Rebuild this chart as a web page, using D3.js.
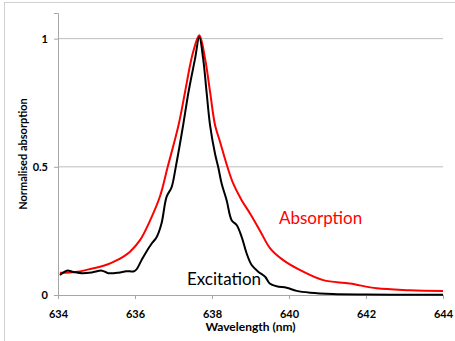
<!DOCTYPE html>
<html>
<head>
<meta charset="utf-8">
<script src="https://cdn.jsdelivr.net/npm/d3@7"></script>
<style>
    body { margin: 0; background: #fff; }
    text { font-family: Lato, "Open Sans", sans-serif; }
</style>
</head>
<body>
<div id="vis"></div>
<script>
(function () {
    // wavelength (nm) / normalised value
    const absorptionX = [634.05, 634.3, 634.57, 634.8, 635.09, 635.3, 635.48, 635.7, 635.87, 636.13,
        636.39, 636.65, 636.85, 637.13, 637.3, 637.43, 637.51, 637.67, 637.82, 637.95, 638.08, 638.21,
        638.4, 638.55, 638.77, 639.0, 639.25, 639.51, 639.85, 640.29, 640.89, 641.58, 642.28, 643.14, 644.0];
    const absorptionY = [0.087, 0.088, 0.092, 0.1, 0.11, 0.12, 0.132, 0.15, 0.169, 0.214,
        0.29, 0.385, 0.5, 0.662, 0.792, 0.896, 0.948, 1.013, 0.922, 0.792, 0.662, 0.597,
        0.5, 0.435, 0.37, 0.315, 0.25, 0.182, 0.136, 0.097, 0.058, 0.045, 0.026, 0.019, 0.016];

    const excitationX = [634.05, 634.23, 634.4, 634.62, 634.88, 635.14, 635.31, 635.57, 635.78, 635.96,
        636.04, 636.17, 636.3, 636.43, 636.56, 636.69, 636.82, 636.95, 637.06, 637.25, 637.39, 637.56,
        637.67, 637.77, 637.86, 637.95, 638.08, 638.16, 638.25, 638.38, 638.51, 638.64, 638.77, 638.9,
        639.03, 639.2, 639.38, 639.5, 639.68, 639.94, 640.2, 640.55, 641.14, 642.0, 643.0, 644.0];
    const excitationY = [0.078, 0.095, 0.09, 0.085, 0.088, 0.095, 0.085, 0.087, 0.093, 0.092,
        0.1, 0.136, 0.17, 0.2, 0.225, 0.28, 0.383, 0.42, 0.5, 0.662, 0.792, 0.922,
        1.006, 0.922, 0.79, 0.662, 0.55, 0.5, 0.435, 0.37, 0.292, 0.273, 0.227, 0.162,
        0.117, 0.091, 0.071, 0.045, 0.034, 0.028, 0.016, 0.009, 0.004, 0.002, 0.001, 0.001];

    const xTicks = [634, 636, 638, 640, 642, 644];
    const yTicks = [0, 0.5, 1];

    const W = 455, H = 341;
    const margin = { top: 13, right: 12, bottom: 46, left: 58 };
    const width = W - margin.left - margin.right;
    const height = H - margin.top - margin.bottom;

    const root = d3.select("#vis").append("svg")
        .attr("width", W)
        .attr("height", H);

    // outer frame of the chart object
    root.append("rect")
        .attr("x", 4.5).attr("y", 2.5)
        .attr("width", 470).attr("height", 360)
        .attr("fill", "none")
        .attr("stroke", "#d0d0d0");

    const svg = root.append("g")
        .attr("transform", `translate(${margin.left},${margin.top})`);

    const x = d3.scaleLinear().domain([634, 644]).range([0, width]);
    const y = d3.scaleLinear().domain([0, 1.1]).range([height, 0]);

    // gridlines
    svg.selectAll(".grid")
        .data(yTicks.filter(d => d > 0))
        .enter()
        .append("line")
        .attr("x1", 0).attr("x2", width)
        .attr("y1", d => y(d)).attr("y2", d => y(d))
        .attr("stroke", "#bdbdbd")
        .attr("stroke-width", 1);

    const xAxis = d3.axisBottom(x).tickValues(xTicks).tickSize(4).tickFormat(d3.format("d"));
    const yAxis = d3.axisLeft(y).tickValues(yTicks).tickSize(4).tickFormat(d => d);

    const gx = svg.append("g").attr("transform", `translate(0,${height})`).call(xAxis);
    const gy = svg.append("g").call(yAxis);

    [gx, gy].forEach(g => {
        g.select(".domain").attr("stroke", "#a6a6a6");
        g.selectAll(".tick line").attr("stroke", "#a6a6a6");
        g.selectAll(".tick text")
            .attr("fill", "#000")
            .style("font-size", "11px")
            .style("font-weight", "bold")
            .style("font-family", "Lato, sans-serif");
    });
    gx.selectAll(".tick text").attr("dy", "1.45em");
    gy.selectAll(".tick text").attr("x", -10);

    svg.append("text")
        .attr("x", width / 2)
        .attr("y", height + 36)
        .attr("text-anchor", "middle")
        .style("font-size", "12px")
        .style("font-weight", "bold")
        .text("Wavelength (nm)");

    svg.append("text")
        .attr("transform", "rotate(-90)")
        .attr("x", -height / 2)
        .attr("y", -31)
        .attr("text-anchor", "middle")
        .style("font-size", "11px")
        .style("font-weight", "bold")
        .text("Normalised absorption");

    const line = d3.line()
        .x(d => x(d[0]))
        .y(d => y(d[1]))
        .curve(d3.curveCatmullRom.alpha(0.5));

    const absorption = d3.zip(absorptionX, absorptionY);
    const excitation = d3.zip(excitationX, excitationY);

    svg.append("path")
        .datum(absorption)
        .attr("fill", "none")
        .attr("stroke", "#ff0000")
        .attr("stroke-width", 2)
        .attr("d", line);

    svg.append("path")
        .datum(excitation)
        .attr("fill", "none")
        .attr("stroke", "#000")
        .attr("stroke-width", 2)
        .attr("d", line);

    svg.append("text")
        .attr("x", x(639.74))
        .attr("y", y(0.277))
        .attr("fill", "#ff0000")
        .style("font-size", "17px")
        .text("Absorption");

    svg.append("text")
        .attr("x", x(637.35))
        .attr("y", y(0.038))
        .attr("fill", "#000")
        .style("font-size", "17px")
        .text("Excitation");
})();
</script>
</body>
</html>
